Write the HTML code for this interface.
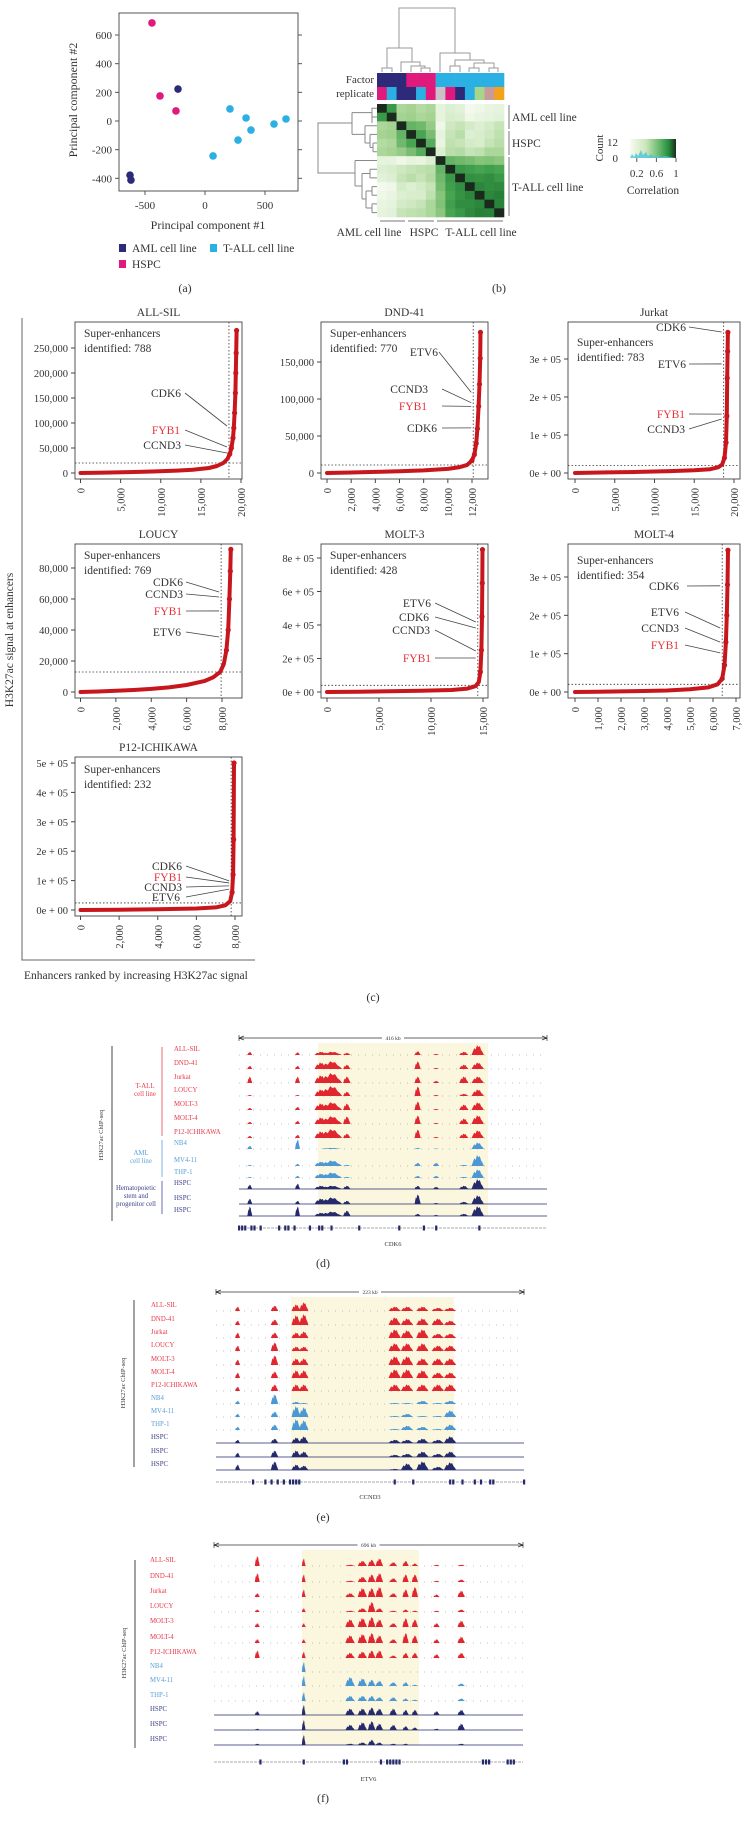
<!DOCTYPE html>
<html><head><meta charset="utf-8"><style>
html,body{margin:0;padding:0;background:#fff;}
svg{display:block;font-family:"Liberation Serif",serif;}
</style></head><body>
<svg id="fig" width="746" height="1835" viewBox="0 0 746 1835" xmlns="http://www.w3.org/2000/svg"></svg>
<script>
// ---------- Panel (a) PCA data ----------
const pcaGroups = ['AML cell line','HSPC','T-ALL cell line'];
const pcaX_AML = [-225,-625,-617];
const pcaY_AML = [223,-378,-412];
const pcaX_HSPC = [-442,-375,-242];
const pcaY_HSPC = [684,175,70];
const pcaX_TALL = [208,342,383,275,67,575,675];
const pcaY_TALL = [84,21,-63,-133,-244,-21,14];
const pcaXTicks = [-500,0,500];
const pcaYTicks = [-400,-200,0,200,400,600];

// ---------- Panel (b) correlation heatmap ----------
const corrFactor = ['AML','AML','AML','HSPC','HSPC','HSPC','TALL','TALL','TALL','TALL','TALL','TALL','TALL'];
const corrReplicate = ['#e0197d','#2bb0e3','#2e2a7a','#2e2a7a','#2bb0e3','#e0197d','#c9c3c9','#e0197d','#2e2a7a','#2bb0e3','#a6d68a','#c99a9a','#f2a31b'];
const corrMatrix = [
[1.00,0.82,0.55,0.58,0.52,0.55,0.30,0.35,0.32,0.22,0.25,0.28,0.30],
[0.82,1.00,0.58,0.60,0.55,0.58,0.30,0.38,0.35,0.25,0.28,0.30,0.32],
[0.55,0.58,1.00,0.72,0.70,0.62,0.25,0.42,0.45,0.40,0.35,0.40,0.45],
[0.58,0.60,0.72,1.00,0.78,0.68,0.30,0.45,0.50,0.35,0.38,0.42,0.48],
[0.52,0.55,0.70,0.78,1.00,0.75,0.28,0.48,0.45,0.40,0.38,0.45,0.50],
[0.55,0.58,0.62,0.68,0.75,1.00,0.35,0.50,0.52,0.45,0.48,0.55,0.55],
[0.30,0.30,0.25,0.30,0.28,0.35,1.00,0.72,0.70,0.68,0.65,0.66,0.64],
[0.35,0.38,0.42,0.45,0.48,0.50,0.72,1.00,0.82,0.80,0.78,0.80,0.78],
[0.32,0.35,0.45,0.50,0.45,0.52,0.70,0.82,1.00,0.85,0.84,0.86,0.82],
[0.22,0.25,0.40,0.35,0.40,0.45,0.68,0.80,0.85,1.00,0.88,0.86,0.87],
[0.25,0.28,0.35,0.38,0.38,0.48,0.65,0.78,0.84,0.88,1.00,0.88,0.90],
[0.28,0.30,0.40,0.42,0.45,0.55,0.66,0.80,0.86,0.86,0.88,1.00,0.89],
[0.30,0.32,0.45,0.48,0.50,0.55,0.64,0.78,0.82,0.87,0.90,0.89,1.00]];
const corrTickLabels = ['0.2','0.6','1'];

// ---------- Panel (c) hockey-stick data ----------
const allsilRanks = [0,3000,6000,9000,12000,14000,16000,17000,17800,18300,18600,18800,19000,19100,19200,19300,19350,19400,19450];
const allsilValues = [0,800,1800,3000,4800,6500,10000,14000,20000,28000,38000,50000,70000,90000,120000,160000,200000,240000,285000];
const dndRanks = [0,2000,4000,6000,8000,10000,11000,11600,12000,12200,12350,12450,12550,12620,12680,12700];
const dndValues = [0,700,1500,2300,3500,5500,8000,11000,17000,25000,40000,60000,90000,120000,155000,190000];
const jurkatRanks = [0,4000,8000,12000,15000,17000,18000,18500,18800,19000,19100,19150,19200,19230];
const jurkatValues = [0,1500,3000,5000,7000,10000,15000,22000,40000,80000,150000,250000,320000,370000];
const loucyRanks = [0,1000,2000,3000,4000,5000,6000,7000,7500,7900,8100,8250,8350,8420,8470,8500];
const loucyValues = [0,300,800,1300,2000,3000,4500,7000,9500,13000,18000,27000,40000,60000,78000,92000];
const molt3Ranks = [0,3000,6000,9000,12000,13500,14300,14600,14750,14850,14900,14930,14950];
const molt3Values = [0,2000,4000,7000,12000,20000,35000,60000,120000,250000,450000,650000,850000];
const molt4Ranks = [0,1000,2000,3000,4000,5000,5800,6200,6400,6500,6560,6600,6630,6650];
const molt4Values = [0,800,1600,2500,4000,7000,12000,20000,35000,70000,130000,200000,280000,370000];
const p12Ranks = [0,2000,4000,6000,7000,7500,7750,7850,7900,7930,7950];
const p12Values = [0,1000,2500,5000,9000,16000,30000,60000,120000,240000,500000];

const allsilXTicks=[0,5000,10000,15000,20000], allsilXLabels=['0','5,000','10,000','15,000','20,000'];
const allsilYTicks=[0,50000,100000,150000,200000,250000], allsilYLabels=['0','50,000','100,000','150,000','200,000','250,000'];
const dndXTicks=[0,2000,4000,6000,8000,10000,12000], dndXLabels=['0','2,000','4,000','6,000','8,000','10,000','12,000'];
const dndYTicks=[0,50000,100000,150000], dndYLabels=['0','50,000','100,000','150,000'];
const jurkatXTicks=[0,5000,10000,15000,20000], jurkatXLabels=['0','5,000','10,000','15,000','20,000'];
const jurkatYTicks=[0,100000,200000,300000], jurkatYLabels=['0e + 00','1e + 05','2e + 05','3e + 05'];
const loucyXTicks=[0,2000,4000,6000,8000], loucyXLabels=['0','2,000','4,000','6,000','8,000'];
const loucyYTicks=[0,20000,40000,60000,80000], loucyYLabels=['0','20,000','40,000','60,000','80,000'];
const molt3XTicks=[0,5000,10000,15000], molt3XLabels=['0','5,000','10,000','15,000'];
const molt3YTicks=[0,200000,400000,600000,800000], molt3YLabels=['0e + 00','2e + 05','4e + 05','6e + 05','8e + 05'];
const molt4XTicks=[0,1000,2000,3000,4000,5000,6000,7000], molt4XLabels=['0','1,000','2,000','3,000','4,000','5,000','6,000','7,000'];
const molt4YTicks=[0,100000,200000,300000], molt4YLabels=['0e + 00','1e + 05','2e + 05','3e + 05'];
const p12XTicks=[0,2000,4000,6000,8000], p12XLabels=['0','2,000','4,000','6,000','8,000'];
const p12YTicks=[0,100000,200000,300000,400000,500000], p12YLabels=['0e + 00','1e + 05','2e + 05','3e + 05','4e + 05','5e + 05'];

const seCounts = [788,770,783,769,428,354,232];
const seCutoffRank = [18500,12100,18700,7950,14500,6400,7800];
const seThreshold = [20000,10800,20000,12900,40000,20000,24000];
const allsilGenes = ['CDK6','FYB1','CCND3'], allsilGeneVals=[94000,52000,40000];
const dndGenes = ['ETV6','CCND3','FYB1','CDK6'], dndGeneVals=[109000,95000,90000,61000];
const jurkatGenes = ['CDK6','ETV6','FYB1','CCND3'], jurkatGeneVals=[371000,287000,155000,142000];
const loucyGenes = ['CDK6','CCND3','FYB1','ETV6'], loucyGeneVals=[64500,61300,52300,35500];
const molt3Genes = ['ETV6','CDK6','CCND3','FYB1'], molt3GeneVals=[418000,382000,245000,203000];
const molt4Genes = ['CDK6','ETV6','CCND3','FYB1'], molt4GeneVals=[277000,167000,130000,102000];
const p12Genes = ['CDK6','FYB1','CCND3','ETV6'], p12GeneVals=[99000,92000,82000,71000];

// ---------- Panels (d)(e)(f) ChIP-seq tracks ----------
const trackNames = ['ALL-SIL','DND-41','Jurkat','LOUCY','MOLT-3','MOLT-4','P12-ICHIKAWA','NB4','MV4-11','THP-1','HSPC','HSPC','HSPC'];
const cdk6PeakPos = [0.035,0.19,0.265,0.30,0.35,0.58,0.64,0.73,0.775];
const cdk6PeakW = [0.008,0.008,0.02,0.035,0.012,0.01,0.01,0.015,0.02];
const cdk6Heights = [
[0.3,0.25,0.3,0.3,0.2,0.35,0.1,0.3,0.9],[0.3,0.3,0.6,0.7,0.4,0.7,0.1,0.4,0.6],[0.6,0.6,0.7,0.9,0.6,0.6,0.2,0.6,0.6],
[0.1,0.1,0.6,0.9,0.4,0.9,0.1,0.2,0.6],[0.2,0.3,0.6,0.7,0.6,0.8,0.1,0.5,0.7],[0.2,0.3,0.6,0.7,0.7,0.8,0.1,0.5,0.8],
[0.2,0.3,0.6,0.8,0.4,0.8,0.1,0.4,0.7],[0.3,0.9,0,0.1,0,0.1,0.05,0,0.6],[0.1,0.2,0.4,0.5,0.1,0.3,0.3,0.1,1.0],
[0.1,0.2,0.4,0.5,0.1,0.2,0.2,0.1,0.8],[0.4,0.5,0.3,0.3,0.3,0.3,0.2,0.3,0.9],[0.5,0.3,0.5,0.6,0.3,0.9,0.1,0.2,0.8],
[0.9,0.9,0.3,0.4,0.5,0.2,0.1,0.2,0.9]];
const ccnd3PeakPos = [0.07,0.19,0.26,0.285,0.58,0.62,0.67,0.72,0.76];
const ccnd3PeakW = [0.008,0.012,0.015,0.015,0.02,0.02,0.02,0.02,0.02];
const ccnd3Heights = [
[0.4,0.5,0.6,0.8,0.4,0.4,0.4,0.3,0.3],[0.4,0.5,0.9,1.0,0.7,0.6,0.6,0.6,0.4],[0.5,0.5,0.5,0.6,0.8,0.7,0.8,0.4,0.4],
[0.5,0.8,0.4,0.4,0.7,0.7,0.7,0.5,0.5],[0.5,0.9,0.6,0.6,0.8,0.8,0.6,0.6,0.6],[0.5,0.6,0.7,0.7,0.8,0.8,0.7,0.5,0.5],
[0.4,0.6,0.6,0.6,0.6,0.6,0.6,0.6,0.6],[0.3,0.9,0.2,0.1,0.1,0.1,0.3,0.1,0.3],[0.3,0.5,1.0,0.9,0.1,0.3,0.1,0.1,0.6],
[0.3,0.5,1.0,0.9,0.1,0.4,0.3,0.1,0.5],[0.3,0.4,0.5,0.6,0.3,0.3,0.4,0.3,0.6],[0.4,0.6,0.6,0.5,0.2,0.3,0.5,0.3,0.5],
[0.5,0.8,0.5,0.4,0.1,0.6,0.8,0.3,0.7]];
const etv6PeakPos = [0.14,0.29,0.44,0.48,0.51,0.535,0.58,0.62,0.65,0.72,0.80];
const etv6PeakW = [0.008,0.006,0.015,0.015,0.012,0.012,0.012,0.01,0.01,0.01,0.012];
const etv6Heights = [
[0.8,0.6,0.1,0.4,0.5,0.6,0.3,0.4,0.2,0.1,0.1],[0.7,0.6,0.1,0.4,0.6,0.7,0.3,0.6,0.6,0.1,0.2],[0.3,0.6,0.3,0.7,0.7,0.8,0.3,0.6,0.8,0.2,0.5],
[0.2,0.3,0.1,0.3,0.8,0.3,0.1,0.2,0.1,0.1,0.2],[0.3,0.3,0.6,0.7,0.8,0.6,0.3,0.7,0.6,0.3,0.5],[0.3,0.3,0.6,0.7,0.8,0.6,0.3,0.8,0.6,0.3,0.5],
[0.6,0.5,0.4,0.5,0.6,0.6,0.2,0.4,0.4,0.3,0.4],[0,0.8,0,0,0,0,0,0,0,0,0],[0,0.8,0.7,0.6,0.5,0.4,0.3,0.3,0.1,0,0.2],
[0,0.7,0.4,0.4,0.4,0.3,0.3,0.2,0.1,0,0.2],[0.3,0.8,0.5,0.5,0.6,0.5,0.5,0.4,0.4,0.3,0.4],[0.1,0.8,0.4,0.6,0.7,0.5,0.4,0.3,0.2,0.1,0.5],
[0.1,0.8,0.1,0.2,0.4,0.2,0.1,0.1,0,0,0.1]];
const cdk6Exons = [0,0.01,0.02,0.04,0.05,0.07,0.13,0.15,0.16,0.18,0.23,0.26,0.27,0.3,0.39,0.52,0.6,0.64,0.78];
const ccnd3Exons = [0.12,0.16,0.18,0.2,0.22,0.24,0.25,0.26,0.27,0.58,0.64,0.76,0.77,0.8,0.84,0.86,0.89,0.9,1.0];
const etv6Exons = [0.15,0.29,0.42,0.43,0.54,0.56,0.57,0.58,0.59,0.6,0.87,0.88,0.89,0.95,0.96,0.97];

// ================= rendering =================
const NS='http://www.w3.org/2000/svg';
const svg=document.getElementById('fig');
function el(tag,attrs,parent){const e=document.createElementNS(NS,tag);for(const k in attrs)e.setAttribute(k,attrs[k]);(parent||svg).appendChild(e);return e;}
function txt(x,y,s,attrs,parent){const t=el('text',Object.assign({x:x,y:y},attrs||{}),parent);t.textContent=s;return t;}
function lin(d0,d1,r0,r1){return v=>r0+(v-d0)*(r1-r0)/(d1-d0);}

// ---- Panel a ----
(function(){
 const g=el('g',{});
 
 
 const X=lin(0,500,205,265), Y=lin(0,600,121,35);
 const box=el('rect',{x:119,y:13,width:179,height:178,fill:'none',stroke:'#555','stroke-width':1},g);
 
 
 pcaXTicks.forEach(v=>{el('line',{x1:X(v),x2:X(v),y1:191,y2:195,stroke:'#555'},g);
  const t=txt(X(v),209,String(v).replace('-','-'),{'font-size':11,'text-anchor':'middle',fill:'#333'},g);
  
  });
 pcaYTicks.forEach(v=>{el('line',{x1:115,x2:119,y1:Y(v),y2:Y(v),stroke:'#555'},g);
  el('line',{x1:298,x2:302,y1:Y(v),y2:Y(v),stroke:'#555'},g);
  const t=txt(112,Y(v)+4,String(v),{'font-size':11,'text-anchor':'end',fill:'#333'},g);
  
  });
 const xt=txt(208,229,'Principal component #1',{'font-size':12,'text-anchor':'middle',fill:'#333'},g);
 
 
 const yt=txt(0,0,'Principal component #2',{'font-size':12,'text-anchor':'middle',fill:'#333',transform:'translate(77,100) rotate(-90)'},g);
 
 
 const sets=[[pcaX_AML,pcaY_AML,'#2e2a7a'],[pcaX_HSPC,pcaY_HSPC,'#e0197d'],[pcaX_TALL,pcaY_TALL,'#2bb0e3']];
 sets.forEach(s=>s[0].forEach((v,i)=>{const c=el('circle',{cx:X(v),cy:Y(s[1][i]),r:3.8,fill:s[2]},g);
  
  }));
 const leg=[[119,244,'#2e2a7a',pcaGroups[0]],[210,244,'#2bb0e3',pcaGroups[2]],[119,260,'#e0197d',pcaGroups[1]]];
 leg.forEach(l=>{const lg=el('g',{},g);
  
  
  el('rect',{x:l[0],y:l[1],width:7,height:8,fill:l[2]},lg);
  txt(l[0]+13,l[1]+8,l[3],{'font-size':11.5,fill:'#333'},lg);});
 const pl=txt(185,292,'(a)',{'font-size':12,'text-anchor':'middle',fill:'#333'},g);
 
 
})();

// ---- Panel b ----
(function(){
 const g=el('g',{});
 
 
 const n=corrMatrix.length, x0=377, y0=104, cw=127/n, ch=113/n;
 const stops=[[0.2,[247,251,243]],[0.4,[212,235,199]],[0.6,[159,208,140]],[0.8,[63,159,76]],[0.92,[35,122,52]],[1.0,[26,43,30]]];
 function col(v){if(v<=stops[0][0])return 'rgb('+stops[0][1]+')';for(let i=1;i<stops.length;i++){if(v<=stops[i][0]){const a=stops[i-1],b=stops[i],t=(v-a[0])/(b[0]-a[0]);return 'rgb('+a[1].map((c,k)=>Math.round(c+(b[1][k]-c)*t)).join(',')+')';}}return 'rgb('+stops[stops.length-1][1]+')';}
 const fcol={AML:'#2e2a7a',HSPC:'#e0197d',TALL:'#2bb0e3'};
 corrFactor.forEach((f,i)=>{const r=el('rect',{x:x0+i*cw,y:73,width:cw+0.3,height:14,fill:fcol[f]},g);
  
  });
 corrReplicate.forEach((c,i)=>{const r=el('rect',{x:x0+i*cw,y:87,width:cw+0.3,height:13,fill:c},g);
  
  });
 corrMatrix.forEach((row,i)=>row.forEach((v,j)=>{const r=el('rect',{x:x0+j*cw,y:y0+i*ch,width:cw+0.3,height:ch+0.3,fill:col(v)},g);
  
  }));
 const cd=el('path',{fill:'none',stroke:'#999','stroke-width':1,d:
 'M399,48V8H455V53 M387,68V48H412V62 M382,72V68H392V72 M401,72V62H420V66 M411,72V66H425V68 M421,72V68H430V72 M440,72V53H470V60 M455,66V60H484V63 M450,72V66H460V72 M474,68V63H494V68 M469,72V68H479V72 M489,72V68H498V72'},g);
 
 
 const rd=el('path',{fill:'none',stroke:'#888','stroke-width':1,d:
 'M352,123H318V173H355 M372,112.6V123 M352,112.6V134.4 M377,108.3H372V117H377 M352,112.6H372 M352,134.4H365 M365,125.7V143 M377,125.7H365 M365,143H370 M370,134.4V147.4 M377,134.4H370 M370,147.4H373 M373,143V151.8 M377,143H373 M377,151.8H373 M355,160.5V186 M377,160.5H355 M355,186H362 M362,173.5V199 M362,173.5H370 M370,169.2V177.9 M377,169.2H370 M377,177.9H370 M362,199H366 M366,191V208 M366,191H372 M372,186.6V195.3 M377,186.6H372 M377,195.3H372 M366,208H372 M372,203.9V212.6 M377,203.9H372 M377,212.6H372'},g);
 
 
 txt(374,83,'Factor',{'font-size':11,'text-anchor':'end',fill:'#333'},g);
 txt(374,97,'replicate',{'font-size':11,'text-anchor':'end',fill:'#333'},g);
 el('path',{d:'M509,105V129 M509,131V155 M509,157V216 M380,221H405 M408,221H434 M437,221H503',stroke:'#777',fill:'none'},g);
 [['AML cell line',512,121],['HSPC',512,147],['T-ALL cell line',512,191]].forEach(a=>{const t=txt(a[1],a[2],a[0],{'font-size':11.5,fill:'#333'},g);
  
  });
 [['AML cell line',369],['HSPC',424],['T-ALL cell line',481]].forEach(a=>{const t=txt(a[1],236,a[0],{'font-size':11.5,'text-anchor':'middle',fill:'#333'},g);
  
  });
 // legend
 const lg=el('g',{},g);
 
 
 const defs=el('defs',{},lg);
 const gr=el('linearGradient',{id:'ck',x1:0,x2:1,y1:0,y2:0},defs);
 [[0,'#f7fbf3'],[0.35,'#c9e6b9'],[0.65,'#63b56a'],[0.85,'#238a3c'],[1,'#1a2b1e']].forEach(s=>el('stop',{offset:s[0],'stop-color':s[1]},gr));
 el('rect',{x:630,y:139,width:46,height:19,fill:'url(#ck)'},lg);
 el('path',{d:'M630,158 L632,154 L634,157 L636,153 L638,156 L641,150 L643,155 L646,152 L648,156 L651,154 L654,157 L657,155 L660,157 L665,156 L670,157 L676,158 Z',fill:'#4fc3d9',opacity:0.8},lg);
 [0.2,0.6,1].forEach((v,i)=>{const x=lin(0,1,627,676)(v);el('line',{x1:x,x2:x,y1:158,y2:162,stroke:'#555'},lg);
  txt(x,177,corrTickLabels[i],{'font-size':11,'text-anchor':'middle',fill:'#333'},lg);});
 txt(618,146,'12',{'font-size':11,'text-anchor':'end',fill:'#333'},lg);
 txt(618,162,'0',{'font-size':11,'text-anchor':'end',fill:'#333'},lg);
 txt(0,0,'Count',{'font-size':11,'text-anchor':'middle',fill:'#333',transform:'translate(603,148) rotate(-90)'},lg);
 txt(653,194,'Correlation',{'font-size':11.5,'text-anchor':'middle',fill:'#333'},lg);
 const pl=txt(499,292,'(b)',{'font-size':12,'text-anchor':'middle',fill:'#333'},g);
 
 
})();

// ---- Panel c ----
const plotsC=[
 {name:'ALL-SIL',r:allsilRanks,v:allsilValues,xt:allsilXTicks,xl:allsilXLabels,yt:allsilYTicks,yl:allsilYLabels,genes:allsilGenes,gv:allsilGeneVals,
  box:[75,322,242,479],xr:[80.5,241],xd:[0,20000],yr:[473,348],yd:[0,250000],se:0,seY:337,lab:[[181,397],[180,434],[181,449]],lx:[184,184,184]},
 {name:'DND-41',r:dndRanks,v:dndValues,xt:dndXTicks,xl:dndXLabels,yt:dndYTicks,yl:dndYLabels,genes:dndGenes,gv:dndGeneVals,
  box:[321,322,488,479],xr:[327,472],xd:[0,12000],yr:[473,362],yd:[0,150000],se:1,seY:337,lab:[[438,356],[428,393],[427,410],[437,432]],lx:[438,441,441,441]},
 {name:'Jurkat',r:jurkatRanks,v:jurkatValues,xt:jurkatXTicks,xl:jurkatXLabels,yt:jurkatYTicks,yl:jurkatYLabels,genes:jurkatGenes,gv:jurkatGeneVals,
  box:[568,322,740,479],xr:[575,734],xd:[0,20000],yr:[473,359],yd:[0,300000],se:2,seY:346,lab:[[686,331],[686,368],[685,418],[685,433]],lx:[688,688,688,688]},
 {name:'LOUCY',r:loucyRanks,v:loucyValues,xt:loucyXTicks,xl:loucyXLabels,yt:loucyYTicks,yl:loucyYLabels,genes:loucyGenes,gv:loucyGeneVals,
  box:[75,544,242,698],xr:[80.5,222],xd:[0,8000],yr:[692,568],yd:[0,80000],se:3,seY:559,lab:[[183,586],[183,598],[182,615],[181,636]],lx:[185,185,185,185]},
 {name:'MOLT-3',r:molt3Ranks,v:molt3Values,xt:molt3XTicks,xl:molt3XLabels,yt:molt3YTicks,yl:molt3YLabels,genes:molt3Genes,gv:molt3GeneVals,
  box:[321,544,488,698],xr:[327,483],xd:[0,15000],yr:[692,558],yd:[0,800000],se:4,seY:559,lab:[[431,607],[429,621],[430,634],[431,662]],lx:[434,434,434,434]},
 {name:'MOLT-4',r:molt4Ranks,v:molt4Values,xt:molt4XTicks,xl:molt4XLabels,yt:molt4YTicks,yl:molt4YLabels,genes:molt4Genes,gv:molt4GeneVals,
  box:[568,544,740,698],xr:[575,736],xd:[0,7000],yr:[692,577],yd:[0,300000],se:5,seY:564,lab:[[679,590],[679,616],[679,632],[679,649]],lx:[686,684,684,684]},
 {name:'P12-ICHIKAWA',r:p12Ranks,v:p12Values,xt:p12XTicks,xl:p12XLabels,yt:p12YTicks,yl:p12YLabels,genes:p12Genes,gv:p12GeneVals,
  box:[75,757,242,916],xr:[80.5,235],xd:[0,8000],yr:[910,763],yd:[0,500000],se:6,seY:773,lab:[[182,870],[182,881],[182,891],[180,901]],lx:[185,185,185,185]}
];
plotsC.forEach(p=>{
 const g=el('g',{});
 
 
 const X=lin(p.xd[0],p.xd[1],p.xr[0],p.xr[1]), Y=lin(p.yd[0],p.yd[1],p.yr[0],p.yr[1]);
 const [bx0,by0,bx1,by1]=p.box;
 const t=txt((bx0+bx1)/2,by0-6,p.name,{'font-size':11.5,'text-anchor':'middle',fill:'#333'},g);
 
 
 el('rect',{x:bx0,y:by0,width:bx1-bx0,height:by1-by0,fill:'none',stroke:'#444','stroke-width':0.9},g);
 p.yt.forEach((v,i)=>{el('line',{x1:bx0-4,x2:bx0,y1:Y(v),y2:Y(v),stroke:'#444'},g);
  const l=txt(bx0-7,Y(v)+4,p.yl[i],{'font-size':10.5,'text-anchor':'end',fill:'#333'},g);
  
  });
 p.xt.forEach((v,i)=>{el('line',{x1:X(v),x2:X(v),y1:by1,y2:by1+4,stroke:'#444'},g);
  const l=txt(0,0,p.xl[i],{'font-size':10.5,'text-anchor':'end',fill:'#333',transform:'translate('+(X(v)+4)+','+(by1+9)+') rotate(-90)'},g);
  
  });
 const thr=seThreshold[p.se], cut=seCutoffRank[p.se];
 el('line',{x1:bx0,x2:bx1,y1:Y(thr),y2:Y(thr),stroke:'#333','stroke-dasharray':'1.5,2','stroke-width':0.8},g);
 el('line',{x1:X(cut),x2:X(cut),y1:by0,y2:by1,stroke:'#333','stroke-dasharray':'1.5,2','stroke-width':0.8},g);
 let d='';p.r.forEach((r,i)=>{d+=(i?'L':'M')+X(r).toFixed(1)+','+Y(p.v[i]).toFixed(1);});
 const c=el('path',{d:d,fill:'none',stroke:'#c8161d','stroke-width':4,'stroke-linejoin':'round','stroke-linecap':'round'},g);
 
 
 p.r.forEach((r,i)=>{if(p.v[i]>thr*1.5){const pt=el('circle',{cx:X(r),cy:Y(p.v[i]),r:2.6,fill:'#c8161d'},g);
  
  }});
 txt(bx0+9,p.seY,'Super-enhancers',{'font-size':11.5,fill:'#333'},g);
 txt(bx0+9,p.seY+15,'identified: '+seCounts[p.se],{'font-size':11.5,fill:'#333'},g);
 p.genes.forEach((gn,i)=>{const [tx,ty]=p.lab[i];
  const gt=txt(tx,ty,gn,{'font-size':11.5,'text-anchor':'end',fill:gn==='FYB1'?'#e8323a':'#333'},g);
  
  
  el('line',{x1:p.lx[i]+1,y1:ty-4,x2:X(cut)-2,y2:Y(p.gv[i]),stroke:'#444','stroke-width':0.8},g);});
});
(function(){
 const g=el('g',{});
 
 
 el('path',{d:'M22,318V960H255',fill:'none',stroke:'#666','stroke-width':1},g);
 txt(0,0,'H3K27ac signal at enhancers',{'font-size':11.5,'text-anchor':'middle',fill:'#333',transform:'translate(13,640) rotate(-90)'},g);
 txt(24,979,'Enhancers ranked by increasing H3K27ac signal',{'font-size':11.5,fill:'#333'},g);
 txt(373,1001,'(c)',{'font-size':12,'text-anchor':'middle',fill:'#333'},g);
})();

// ---- Panels d/e/f ----
const trackPanels=[
 {key:'cdk6',pos:cdk6PeakPos,w:cdk6PeakW,h:cdk6Heights,ex:cdk6Exons,gene:'CDK6',kb:'416 kb',
  x0:239,x1:547,arrowY:1038,hl:[318,488,1043,1216],labX:174,rows:[1049,1063,1077,1090,1104,1118,1132,1143,1160,1172,1183,1198,1210],
  geneY:1228,geneLabY:1246,plabY:1267,vline:[112,1046,1221],rot:[103,1135],groups:true,th:11},
 {key:'ccnd3',pos:ccnd3PeakPos,w:ccnd3PeakW,h:ccnd3Heights,ex:ccnd3Exons,gene:'CCND3',kb:'223 kb',
  x0:216,x1:524,arrowY:1292,hl:[291,454,1297,1470],labX:151,rows:[1305,1319,1332,1345,1359,1372,1385,1398,1411,1424,1437,1451,1464],
  geneY:1482,geneLabY:1499,plabY:1521,vline:[134,1300,1467],rot:[125,1383],groups:false,th:11},
 {key:'etv6',pos:etv6PeakPos,w:etv6PeakW,h:etv6Heights,ex:etv6Exons,gene:'ETV6',kb:'696 kb',
  x0:214,x1:523,arrowY:1545,hl:[302,419,1550,1745],labX:150,rows:[1560,1576,1591,1606,1621,1637,1652,1666,1680,1695,1709,1724,1739],
  geneY:1762,geneLabY:1781,plabY:1802,vline:[135,1560,1748],rot:[126,1653],groups:false,th:13}
];
const panelLetters=['(d)','(e)','(f)'];
trackPanels.forEach((P,pi)=>{
 const g=el('g',{});
 
 
 const X=lin(0,1,P.x0,P.x1);
 const hl=el('rect',{x:P.hl[0],y:P.hl[2],width:P.hl[1]-P.hl[0],height:P.hl[3]-P.hl[2],fill:'#fbf6de'},g);
 
 
 el('line',{x1:P.x0,x2:P.x1,y1:P.arrowY,y2:P.arrowY,stroke:'#333','stroke-width':0.7},g);
 el('path',{d:'M'+P.x0+','+(P.arrowY-3)+'V'+(P.arrowY+3)+'M'+P.x1+','+(P.arrowY-3)+'V'+(P.arrowY+3)+'M'+(P.x0+5)+','+(P.arrowY-2)+'L'+P.x0+','+P.arrowY+'L'+(P.x0+5)+','+(P.arrowY+2)+'M'+(P.x1-5)+','+(P.arrowY-2)+'L'+P.x1+','+P.arrowY+'L'+(P.x1-5)+','+(P.arrowY+2),stroke:'#333',fill:'none','stroke-width':0.7},g);
 const mid=(P.x0+P.x1)/2;
 el('rect',{x:mid-11,y:P.arrowY-3,width:22,height:6,fill:'#fff'},g);
 txt(mid,P.arrowY+2,P.kb,{'font-size':5.5,'text-anchor':'middle',fill:'#333'},g);
 trackNames.forEach((nm,ti)=>{
  const colr=ti<7?'#e0262f':(ti<10?'#4b98d5':'#252a6c');
  const lc=ti<7?'#e8394a':(ti<10?'#5a9fd8':'#3b3f86');
  const lt=txt(P.labX,P.rows[ti]+2,nm,{'font-size':6.8,fill:lc},g);
  
  
  const base=P.rows[ti]+6;
  el('line',{x1:P.x0,x2:P.x1,y1:base,y2:base,stroke:ti>=10?'#252a6c':'#888','stroke-width':ti>=10?0.7:0.6,'stroke-dasharray':ti>=10?'none':'1,6'},g);
  P.pos.forEach((c,k)=>{const hv=P.h[ti][k];if(hv<=0)return;
   const cx=X(c), hw=Math.max(1.2,P.w[k]*(P.x1-P.x0)), H=hv*P.th;
   const fr=[0,0.35,0.7,0.55,1,0.8,0.9,0.5,0.3,0];
   let d='M'+(cx-hw).toFixed(1)+','+base;
   fr.forEach((f,q)=>{const xx=cx-hw+2*hw*q/(fr.length-1);d+='L'+xx.toFixed(1)+','+(base-f*H).toFixed(1);});
   d+='Z';
   const pk=el('path',{d:d,fill:colr},g);
   
   });
 });
 // gene track
 el('line',{x1:P.x0,x2:P.x1,y1:P.geneY,y2:P.geneY,stroke:'#555','stroke-width':0.5,'stroke-dasharray':'3,1'},g);
 P.ex.forEach(e=>{const r=el('rect',{x:X(e)-1,y:P.geneY-2.5,width:2.2,height:5,fill:'#252a6c'},g);
  
  });
 const gl=txt(mid,P.geneLabY,P.gene,{'font-size':6.5,'text-anchor':'middle',fill:'#333'},g);
 
 
 el('line',{x1:P.vline[0],x2:P.vline[0],y1:P.vline[1],y2:P.vline[2],stroke:'#444','stroke-width':1},g);
 txt(0,0,'H3K27ac ChIP-seq',{'font-size':6.5,'text-anchor':'middle',fill:'#333',transform:'translate('+P.rot[0]+','+P.rot[1]+') rotate(-90)'},g);
 if(P.groups){
  el('line',{x1:162,x2:162,y1:1047,y2:1136,stroke:'#f19ba0','stroke-width':1.5},g);
  el('line',{x1:162,x2:162,y1:1140,y2:1177,stroke:'#a9cdee','stroke-width':1.5},g);
  el('line',{x1:162,x2:162,y1:1181,y2:1214,stroke:'#9c9ccc','stroke-width':1.5},g);
  [['T-ALL',145,1088,'#e8394a'],['cell line',145,1096,'#e8394a'],['AML',141,1155,'#5a9fd8'],['cell line',141,1163,'#5a9fd8'],
   ['Hematopoietic',136,1190,'#3b3f86'],['stem and',136,1198,'#3b3f86'],['progenitor cell',136,1206,'#3b3f86']].forEach(a=>{
   const t=txt(a[1],a[2],a[0],{'font-size':6.8,'text-anchor':'middle',fill:a[3]},g);
   
   });
 }
 const pl=txt(323,P.plabY,panelLetters[pi],{'font-size':12,'text-anchor':'middle',fill:'#333'},g);
 
 
});
</script>
</body></html>
